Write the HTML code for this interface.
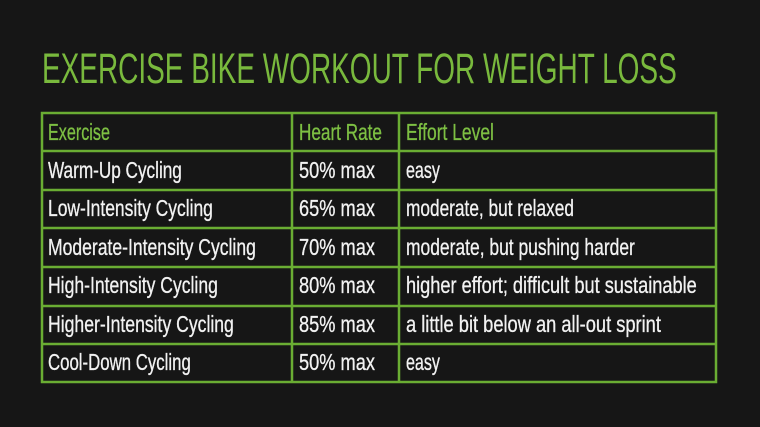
<!DOCTYPE html>
<html><head><meta charset="utf-8"><style>
html,body{margin:0;padding:0;background:#151515;}
svg{display:block}
</style></head><body>
<svg id="s" width="760" height="427" xmlns="http://www.w3.org/2000/svg">
<rect width="760" height="427" fill="#161616"/>
<text class="f" x="42" y="83" data-w="635" font-family="Liberation Sans, sans-serif" font-size="43" fill="#79b93d">EXERCISE BIKE WORKOUT FOR WEIGHT LOSS</text>
<g stroke="#6aad33" stroke-width="2.5" fill="none">
<rect x="42" y="113" width="674" height="269"/>
<line x1="292" y1="113" x2="292" y2="382"/>
<line x1="399" y1="113" x2="399" y2="382"/>
<line x1="42" y1="151" x2="716" y2="151"/>
<line x1="42" y1="190" x2="716" y2="190"/>
<line x1="42" y1="228" x2="716" y2="228"/>
<line x1="42" y1="267" x2="716" y2="267"/>
<line x1="42" y1="306" x2="716" y2="306"/>
<line x1="42" y1="344" x2="716" y2="344"/>
</g>
<g font-family="Liberation Sans, sans-serif" font-size="23" stroke-width="0.3">
<g fill="#7dbf43" stroke="#7dbf43">
<text class="f" x="48" y="140" data-w="62">Exercise</text>
<text class="f" x="299" y="140" data-w="83">Heart Rate</text>
<text class="f" x="406" y="140" data-w="88">Effort Level</text>
</g>
<g fill="#f2f2f2" stroke="#f2f2f2">
<text class="f" x="48" y="178" data-w="134">Warm-Up Cycling</text>
<text class="f" x="48" y="216" data-w="165">Low-Intensity Cycling</text>
<text class="f" x="48" y="255" data-w="208">Moderate-Intensity Cycling</text>
<text class="f" x="48" y="293" data-w="170">High-Intensity Cycling</text>
<text class="f" x="48" y="332" data-w="186">Higher-Intensity Cycling</text>
<text class="f" x="48" y="370" data-w="143">Cool-Down Cycling</text>
<text class="f" x="299" y="178" data-w="76">50% max</text>
<text class="f" x="299" y="216" data-w="76">65% max</text>
<text class="f" x="299" y="255" data-w="76">70% max</text>
<text class="f" x="299" y="293" data-w="76">80% max</text>
<text class="f" x="299" y="332" data-w="76">85% max</text>
<text class="f" x="299" y="370" data-w="76">50% max</text>
<text class="f" x="406" y="178" data-w="34">easy</text>
<text class="f" x="406" y="216" data-w="168">moderate, but relaxed</text>
<text class="f" x="406" y="255" data-w="229">moderate, but pushing harder</text>
<text class="f" x="406" y="293" data-w="291">higher effort; difficult but sustainable</text>
<text class="f" x="406" y="332" data-w="255">a little bit below an all-out sprint</text>
<text class="f" x="406" y="370" data-w="34">easy</text>
</g>
</g>
</svg>
<script>
document.querySelectorAll('text.f').forEach(function(t){
  var w=t.getComputedTextLength(), tw=+t.getAttribute('data-w');
  var x=+t.getAttribute('x'), s=tw/w;
  t.setAttribute('transform','translate('+x+',0) scale('+s+',1) translate('+(-x)+',0)');
});
</script>
</body></html>
